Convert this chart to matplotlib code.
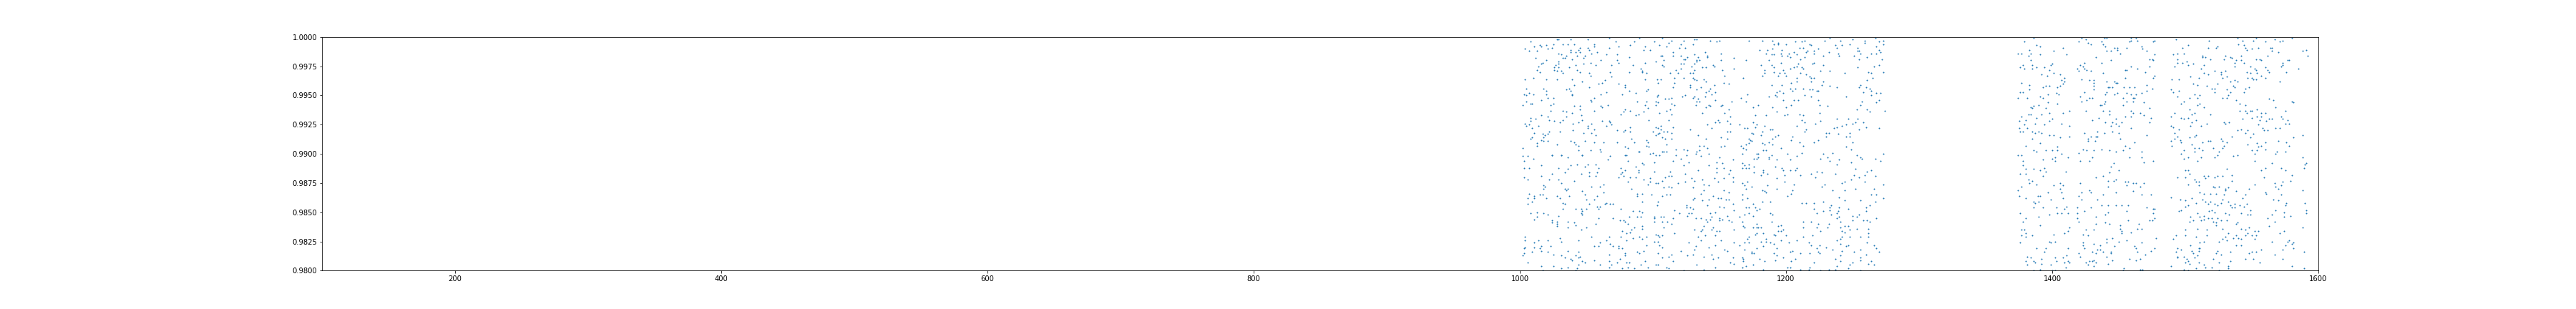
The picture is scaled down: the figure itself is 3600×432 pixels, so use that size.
import matplotlib
matplotlib.use("Agg")
import matplotlib.pyplot as plt

# (x, score) pairs, three bands of points
band1_pts = [
    # x 1000-1070, upper half
    (1008,.9996),(1004,.9990),(1007,.9988),(1011,.9992),(1015,.9993),(1016,.9992),(1013,.9988),(1020,.9993),
    (1021,.9990),(1024,.9991),(1025,.9994),(1028,.9998),(1029,.9998),(1032,.9994),(1036,.9994),(1038,.9998),
    (1041,.9994),(1038,.9989),(1038,.9987),(1042,.9987),(1044,.9989),(1045,.9991),(1043,.9984),(1045,.9987),
    (1051,.9991),(1052,.9989),(1051,.9998),(1056,.9994),(1056,.9992),(1058,.9987),(1054,.9986),(1049,.9984),
    (1048,.9982),(1065,.9985),(1067,.9991),(1067,.9999),(1069,.9976),(1029,.9986),(1031,.9985),(1034,.9982),
    (1032,.9982),(1035,.9984),(1039,.9981),(1029,.9979),(1029,.9977),(1027,.9976),(1026,.9974),(1029,.9974),
    (1020,.9980),(1017,.9978),(1016,.9977),(1014,.9975),(1012,.9982),(1013,.9972),(1015,.9970),(1026,.9972),
    (1028,.9971),(1031,.9971),(1032,.9969),(1037,.9974),(1042,.9976),(1043,.9972),(1045,.9970),(1048,.9977),
    (1053,.9978),(1057,.9976),(1061,.9980),(1052,.9969),(1053,.9967),(1064,.9963),(1062,.9961),(1059,.9960),
    (1068,.9970),(1069,.9966),(1004,.9964),(1010,.9965),(1020,.9964),(1028,.9964),(1039,.9964),(1047,.9962),
    (1005,.9956),(1018,.9956),(1020,.9954),(1020,.9951),(1021,.9948),(1035,.9955),(1037,.9956),(1038,.9954),
    (1039,.9951),(1039,.9950),(1041,.9959),(1003,.9951),(1005,.9950),(1007,.9952),(1010,.9951),(1052,.9957),
    (1056,.9948),(1053,.9946),(1054,.9945),(1025,.9948),(1016,.9946),(1005,.9945),(1008,.9943),(1009,.9943),
    (1002,.9942),(1023,.9942),(1025,.9943),(1041,.9941),(1045,.9941),(1045,.9938),(1061,.9951),(1065,.9953),
    (1061,.9941),(1062,.9940),(1066,.9942),(1023,.9937),(1032,.9937),(1035,.9936),(1039,.9935),(1056,.9937),
    (1016,.9933),(1021,.9932),(1008,.9931),(1008,.9928),(1012,.9930),(1022,.9929),(1026,.9928),(1030,.9927),
    (1032,.9929),(1035,.9932),(1046,.9933),(1047,.9929),(1044,.9927),(1040,.9926),(1004,.9926),(1005,.9924),
    (1007,.9925),(1009,.9922),(1014,.9924),(1051,.9924),(1054,.9926),(1051,.9922),(1056,.9921),(1062,.9928),
    (1065,.9924),(1067,.9928),(1068,.9927),(1069,.9925),(1011,.9918),(1017,.9917),(1019,.9916),(1018,.9914),
    (1021,.9917),(1022,.9919),(1030,.9919),(1040,.9920),(1048,.9918),(1054,.9918),(1057,.9916),(1009,.9914),
    (1008,.9913),(1016,.9912),(1018,.9911),(1021,.9911),(1038,.9911),(1041,.9910),(1042,.9908),(1044,.9907),
    (1049,.9911),(1056,.9910),(1063,.9910),(1013,.9909),(1013,.9907),(1028,.9908),(1002,.9905),(1044,.9903),
    (1053,.9903),(1060,.9904),(1061,.9902),(1024,.9899),(1031,.9899),(1047,.9899),
    # x 1000-1070, lower half
    (1002,.9898),(1006,.9898),(1010,.9896),(1003,.9894),(1024,.9899),(1031,.9899),(1036,.9897),(1047,.9899),
    (1066,.9895),(1068,.9898),(1003,.9888),(1007,.9888),(1016,.9890),(1029,.9888),(1038,.9890),(1036,.9887),
    (1034,.9884),(1024,.9883),(1043,.9891),(1049,.9889),(1051,.9891),(1057,.9891),(1059,.9888),(1058,.9884),
    (1052,.9884),(1052,.9881),(1057,.9881),(1046,.9883),(1003,.9880),(1006,.9878),(1016,.9881),(1022,.9878),
    (1029,.9878),(1031,.9875),(1041,.9877),(1018,.9873),(1019,.9872),(1018,.9870),(1034,.9870),(1035,.9869),
    (1036,.9870),(1054,.9872),(1060,.9872),(1063,.9874),(1063,.9867),(1007,.9866),(1006,.9862),(1011,.9864),
    (1011,.9862),(1015,.9865),(1017,.9865),(1020,.9862),(1028,.9864),(1030,.9862),(1037,.9864),(1047,.9868),
    (1049,.9865),(1050,.9861),(1056,.9861),(1058,.9864),(1006,.9857),(1009,.9859),(1032,.9858),(1034,.9857),
    (1052,.9857),(1058,.9855),(1060,.9855),(1059,.9853),(1064,.9857),(1065,.9858),(1068,.9857),(1070,.9857),
    (1032,.9853),(1042,.9853),(1046,.9853),(1047,.9851),(1046,.9849),(1047,.9848),(1050,.9853),(1008,.9849),
    (1013,.9850),(1018,.9849),(1021,.9848),(1013,.9846),(1011,.9844),(1029,.9847),(1024,.9843),(1024,.9841),
    (1028,.9842),(1028,.9840),(1028,.9838),(1036,.9842),(1041,.9841),(1042,.9839),(1036,.9837),(1046,.9835),
    (1050,.9837),(1059,.9845),(1057,.9840),(1070,.9845),(1004,.9829),(1004,.9826),(1011,.9824),(1014,.9826),
    (1021,.9826),(1030,.9828),(1031,.9825),(1044,.9826),(1054,.9829),(1067,.9829),(1065,.9826),(1068,.9823),
    (1070,.9821),(1003,.9819),(1004,.9820),(1011,.9820),(1015,.9819),(1016,.9821),(1016,.9817),(1009,.9816),
    (1021,.9816),(1023,.9821),(1025,.9814),(1003,.9815),(1002,.9813),(1031,.9813),(1036,.9817),(1034,.9811),
    (1038,.9810),(1039,.9809),(1042,.9813),(1044,.9816),(1044,.9811),(1045,.9812),(1047,.9808),(1049,.9807),
    (1056,.9809),(1056,.9821),(1059,.9821),(1060,.9824),(1067,.9814),(1067,.9808),(1069,.9805),(1067,.9803),
    (1060,.9805),(1006,.9807),(1016,.9804),(1025,.9804),(1031,.9802),(1036,.9803),(1043,.9802),(1044,.9805),
    (1042,.9800),(1017,.9800),
    # x 1070-1140
    (1090,.9999),(1107,.9999),(1114,.9997),(1123,.9997),(1131,.9998),(1133,.9998),(1072,.9996),(1086,.9996),
    (1101,.9996),(1112,.9995),(1074,.9992),(1083,.9993),(1105,.9993),(1121,.9994),(1130,.9994),(1094,.9992),
    (1093,.9989),(1098,.9989),(1110,.9992),(1120,.9991),(1124,.9991),(1073,.9985),(1082,.9983),(1106,.9984),
    (1107,.9984),(1115,.9984),(1115,.9987),(1121,.9984),(1123,.9981),(1124,.9981),(1126,.9983),(1131,.9985),
    (1134,.9983),(1135,.9980),(1133,.9979),(1139,.9987),(1073,.9980),(1074,.9978),(1085,.9976),(1094,.9978),
    (1102,.9979),(1108,.9980),(1107,.9976),(1108,.9975),(1121,.9977),(1123,.9977),(1121,.9973),(1117,.9972),
    (1129,.9975),(1131,.9977),(1133,.9980),(1137,.9974),(1140,.9974),(1131,.9972),(1091,.9973),(1092,.9971),
    (1092,.9970),(1095,.9969),(1082,.9970),(1113,.9969),(1119,.9969),(1128,.9969),(1130,.9969),(1123,.9965),
    (1116,.9965),(1103,.9964),(1106,.9964),(1094,.9964),(1104,.9961),(1130,.9965),(1131,.9964),(1133,.9963),
    (1138,.9964),(1074,.9960),(1079,.9959),(1079,.9957),(1082,.9954),(1087,.9952),(1096,.9955),(1095,.9954),
    (1115,.9957),(1116,.9961),(1128,.9959),(1128,.9957),(1133,.9955),(1136,.9957),(1140,.9953),(1139,.9949),
    (1077,.9951),(1088,.9945),(1095,.9945),(1104,.9950),(1103,.9949),(1109,.9947),(1112,.9947),(1114,.9948),
    (1114,.9943),(1116,.9942),(1122,.9949),(1124,.9950),(1130,.9948),(1131,.9949),(1133,.9945),(1135,.9945),
    (1134,.9947),(1132,.9942),(1140,.9940),(1094,.9942),(1096,.9939),(1093,.9936),(1102,.9945),(1104,.9944),
    (1102,.9942),(1113,.9938),(1110,.9937),(1114,.9934),(1105,.9935),(1079,.9938),(1078,.9936),(1076,.9934),
    (1083,.9937),(1087,.9933),(1089,.9934),(1137,.9935),(1097,.9929),(1112,.9929),
    (1073,.9920),(1078,.9919),(1079,.9920),(1083,.9923),(1083,.9919),(1100,.9919),(1102,.9923),(1104,.9922),
    (1106,.9924),(1102,.9916),(1104,.9917),(1106,.9921),(1105,.9918),(1108,.9919),(1109,.9913),(1111,.9919),
    (1114,.9918),(1115,.9923),(1107,.9914),(1110,.9908),(1114,.9913),(1073,.9910),(1084,.9913),(1086,.9910),
    (1095,.9912),(1096,.9910),(1095,.9907),(1097,.9906),(1079,.9906),(1081,.9905),(1079,.9899),(1080,.9899),
    (1081,.9894),(1089,.9902),(1090,.9902),(1098,.9900),(1100,.9901),(1102,.9899),(1105,.9899),(1107,.9902),
    (1108,.9902),(1110,.9902),(1117,.9904),(1117,.9899),(1115,.9894),(1101,.9893),(1123,.9904),(1126,.9903),
    (1121,.9896),(1123,.9890),(1125,.9899),(1127,.9893),(1128,.9921),(1134,.9916),(1133,.9902),(1132,.9900),
    (1135,.9903),(1135,.9907),(1138,.9907),(1136,.9898),(1140,.9913),(1076,.9888),(1079,.9886),(1077,.9884),
    (1076,.9883),(1078,.9881),(1074,.9880),(1081,.9876),(1083,.9880),(1087,.9889),(1089,.9886),(1089,.9884),
    (1087,.9880),(1092,.9892),(1093,.9891),(1093,.9878),(1098,.9879),(1098,.9876),(1096,.9874),(1101,.9885),
    (1102,.9875),(1104,.9875),(1107,.9877),(1109,.9880),(1112,.9881),(1114,.9881),(1108,.9871),(1112,.9872),
    (1114,.9871),(1113,.9885),(1119,.9875),(1124,.9883),(1124,.9876),(1129,.9879),(1131,.9877),(1134,.9886),
    (1137,.9878),(1138,.9874),(1130,.9871),
    (1084,.9870),(1088,.9866),(1088,.9864),(1092,.9866),(1099,.9865),(1107,.9864),(1110,.9865),(1113,.9865),
    (1092,.9859),(1104,.9859),(1103,.9856),(1131,.9862),(1130,.9861),(1137,.9860),(1136,.9866),(1138,.9869),
    (1125,.9856),(1125,.9854),(1128,.9854),(1130,.9853),(1127,.9849),(1129,.9849),(1126,.9847),(1116,.9852),
    (1120,.9849),(1076,.9853),(1085,.9851),(1090,.9851),(1092,.9850),(1088,.9846),(1091,.9846),(1082,.9846),
    (1075,.9843),(1078,.9843),(1079,.9842),(1081,.9840),(1101,.9846),(1101,.9845),(1101,.9842),(1106,.9846),
    (1108,.9846),(1107,.9842),(1111,.9842),(1114,.9840),(1115,.9845),(1092,.9838),(1092,.9836),(1086,.9837),
    (1084,.9835),(1083,.9833),(1108,.9837),(1116,.9832),(1132,.9845),(1136,.9845),(1131,.9835),(1137,.9835),
    (1138,.9838),(1077,.9834),(1080,.9832),(1076,.9829),(1085,.9828),(1090,.9829),(1092,.9827),(1095,.9829),
    (1102,.9831),(1104,.9830),(1105,.9829),(1107,.9830),(1101,.9825),(1104,.9825),(1105,.9822),(1107,.9820),
    (1095,.9822),(1088,.9816),(1090,.9815),(1093,.9817),(1080,.9826),(1074,.9821),(1074,.9819),(1077,.9819),
    (1079,.9815),(1079,.9813),(1075,.9810),(1073,.9807),(1080,.9807),(1082,.9807),(1081,.9803),(1086,.9802),
    (1091,.9805),(1094,.9808),(1096,.9803),(1102,.9805),(1104,.9805),(1110,.9803),(1112,.9802),(1107,.9811),
    (1112,.9812),(1114,.9814),(1104,.9815),(1115,.9808),(1121,.9817),(1126,.9813),(1131,.9818),(1132,.9821),
    (1130,.9814),(1127,.9824),(1136,.9826),(1134,.9829),(1136,.9834),(1139,.9830),(1138,.9812),(1133,.9805),
    (1138,.9801),(1123,.9800),(1077,.9802),
    # x 1140-1210
    (1143,.9997),(1148,.9996),(1150,.9997),(1172,.9997),(1182,.9997),(1190,.9997),(1191,.9994),(1194,.9994),
    (1200,.9994),(1207,.9996),(1141,.9984),(1141,.9983),(1151,.9986),(1151,.9980),(1161,.9982),(1170,.9980),
    (1180,.9989),(1185,.9986),(1186,.9989),(1189,.9985),(1190,.9990),(1191,.9985),(1194,.9995),(1196,.9986),
    (1197,.9989),(1197,.9984),(1201,.9984),(1202,.9986),(1203,.9983),(1206,.9987),(1208,.9985),(1145,.9976),
    (1146,.9975),(1152,.9972),(1154,.9967),(1161,.9973),(1181,.9976),(1184,.9972),(1184,.9969),(1182,.9967),
    (1187,.9980),(1189,.9976),(1191,.9974),(1191,.9970),(1194,.9967),(1195,.9969),(1196,.9978),(1198,.9972),
    (1199,.9969),(1200,.9967),(1203,.9973),(1206,.9974),(1208,.9975),(1209,.9977),(1208,.9965),(1208,.9962),
    (1204,.9961),(1140,.9962),(1146,.9959),(1153,.9961),(1157,.9960),(1168,.9965),(1189,.9959),(1193,.9953),
    (1192,.9950),(1193,.9949),(1195,.9954),(1197,.9959),(1198,.9952),(1203,.9956),(1205,.9954),(1207,.9956),
    (1142,.9954),(1143,.9956),(1144,.9951),(1147,.9953),(1147,.9946),(1142,.9942),(1143,.9941),(1151,.9941),
    (1152,.9942),(1159,.9945),(1166,.9948),(1170,.9945),(1171,.9951),(1175,.9940),(1179,.9942),(1187,.9949),
    (1190,.9940),(1193,.9936),(1198,.9946),(1200,.9940),(1201,.9934),(1199,.9933),(1204,.9942),(1206,.9946),
    (1209,.9946),(1154,.9935),(1157,.9938),(1158,.9932),(1177,.9933),(1185,.9933),(1147,.9927),(1149,.9929),
    (1150,.9927),(1156,.9928),(1158,.9926),(1141,.9925),(1144,.9922),(1165,.9925),(1169,.9922),(1171,.9922),
    (1175,.9927),(1177,.9923),(1178,.9925),(1184,.9924),(1182,.9919),(1181,.9916),(1188,.9921),(1190,.9921),
    (1156,.9919),(1158,.9919),(1174,.9918),(1175,.9917),(1172,.9913),(1173,.9912),(1174,.9911),(1172,.9909),
    (1182,.9909),(1184,.9908),(1185,.9903),(1187,.9910),(1190,.9913),(1192,.9915),(1194,.9916),(1190,.9908),
    (1196,.9905),(1204,.9912),(1205,.9915),(1208,.9924),(1210,.9910),(1151,.9914),(1156,.9913),(1141,.9905),
    (1151,.9906),(1154,.9907),(1166,.9907),(1168,.9905),(1170,.9904),(1170,.9908),(1142,.9900),(1150,.9897),
    (1148,.9893),(1152,.9892),(1160,.9895),(1167,.9900),(1167,.9892),(1169,.9890),(1172,.9891),(1178,.9900),
    (1179,.9897),(1178,.9896),(1176,.9896),(1179,.9900),(1183,.9903),(1187,.9897),(1187,.9896),(1193,.9895),
    (1189,.9899),(1201,.9900),(1203,.9895),(1208,.9898),(1142,.9890),(1148,.9888),(1153,.9888),(1148,.9884),
    (1158,.9886),(1157,.9883),(1160,.9880),(1146,.9879),(1149,.9876),(1153,.9879),(1160,.9876),(1167,.9888),
    (1170,.9888),(1172,.9888),(1176,.9889),(1176,.9884),(1183,.9886),(1183,.9884),(1181,.9882),(1186,.9883),
    (1192,.9889),(1197,.9888),(1198,.9886),(1199,.9882),(1203,.9886),(1207,.9886),(1208,.9888),(1206,.9874),
    (1193,.9879),(1199,.9876),(1142,.9873),(1153,.9869),(1157,.9867),(1167,.9875),(1169,.9873),(1171,.9876),
    (1170,.9870),(1174,.9872),(1171,.9862),(1167,.9865),(1167,.9861),(1182,.9869),(1184,.9868),(1185,.9867),
    (1186,.9873),(1193,.9870),(1205,.9869),(1204,.9866),(1201,.9864),(1142,.9861),(1145,.9864),(1149,.9862),
    (1151,.9862),(1155,.9861),(1157,.9861),(1160,.9857),(1161,.9852),(1150,.9855),(1153,.9854),(1141,.9856),
    (1170,.9854),(1172,.9854),(1175,.9857),(1177,.9854),(1178,.9852),(1180,.9853),(1175,.9847),(1172,.9849),
    (1169,.9848),(1165,.9846),(1182,.9859),(1188,.9859),(1188,.9849),(1190,.9848),(1140,.9844),(1143,.9844),
    (1143,.9849),(1144,.9846),(1147,.9850),(1141,.9842),(1150,.9845),(1150,.9843),(1152,.9844),(1156,.9847),
    (1157,.9843),(1159,.9842),(1167,.9842),(1168,.9838),(1169,.9837),(1175,.9837),(1178,.9840),(1178,.9837),
    (1179,.9837),(1181,.9837),(1189,.9842),(1144,.9835),(1145,.9837),(1148,.9834),(1150,.9834),(1147,.9830),
    (1161,.9835),(1178,.9832),(1177,.9831),(1183,.9832),(1185,.9827),(1191,.9831),(1192,.9830),(1194,.9834),
    (1194,.9838),(1196,.9839),(1196,.9834),(1198,.9835),(1200,.9830),(1196,.9826),(1202,.9824),(1208,.9826),
    (1151,.9826),(1161,.9824),(1169,.9824),(1172,.9824),(1171,.9827),(1172,.9829),(1181,.9825),(1185,.9825),
    (1188,.9824),(1191,.9823),(1142,.9820),(1147,.9822),(1154,.9818),(1156,.9817),(1165,.9822),(1169,.9818),
    (1174,.9816),(1174,.9815),(1176,.9815),(1178,.9819),(1183,.9821),(1193,.9819),(1191,.9815),(1193,.9813),
    (1203,.9816),(1205,.9817),(1144,.9814),(1149,.9811),(1145,.9810),(1147,.9803),(1158,.9807),(1160,.9811),
    (1161,.9806),(1167,.9811),(1168,.9810),(1168,.9808),(1167,.9803),(1170,.9804),(1175,.9805),(1180,.9810),
    (1184,.9808),(1183,.9801),(1192,.9809),(1198,.9811),(1204,.9808),(1207,.9810),(1201,.9803),(1203,.9803),
    # x 1210-1275
    (1212,.9996),(1214,.9997),(1229,.9997),(1233,.9999),(1241,.9997),(1250,.9998),(1259,.9997),(1259,.9995),
    (1267,.9999),(1270,.9996),(1273,.9997),(1273,.9994),(1210,.9991),(1213,.9991),(1218,.9994),(1219,.9993),
    (1224,.9990),(1221,.9988),(1221,.9986),(1216,.9988),(1215,.9987),(1214,.9983),(1228,.9984),(1232,.9987),
    (1237,.9993),(1238,.9991),(1239,.9986),(1240,.9984),(1242,.9993),(1248,.9994),(1251,.9984),(1254,.9991),
    (1254,.9988),(1255,.9988),(1256,.9986),(1255,.9981),(1261,.9983),(1264,.9986),(1268,.9986),(1268,.9992),
    (1270,.9989),(1271,.9987),(1270,.9976),(1272,.9981),(1211,.9981),(1220,.9977),(1221,.9978),(1228,.9976),
    (1212,.9974),(1213,.9973),(1211,.9969),(1215,.9968),(1218,.9966),(1219,.9965),(1221,.9965),(1219,.9962),
    (1226,.9971),(1233,.9971),(1244,.9969),(1254,.9974),(1262,.9970),(1264,.9969),(1265,.9965),(1266,.9975),
    (1273,.9970),(1228,.9962),(1227,.9959),(1233,.9958),(1238,.9957),(1213,.9956),(1218,.9955),(1220,.9955),
    (1223,.9954),(1224,.9954),(1214,.9950),(1219,.9949),(1245,.9949),(1255,.9957),(1256,.9959),(1258,.9953),
    (1260,.9957),(1261,.9963),(1263,.9956),(1264,.9954),(1264,.9950),(1268,.9952),(1271,.9952),(1270,.9946),
    (1268,.9944),(1257,.9945),(1256,.9942),(1253,.9938),(1261,.9938),(1263,.9936),(1274,.9937),(1224,.9946),
    (1225,.9942),(1231,.9941),(1210,.9934),(1213,.9933),(1212,.9929),(1214,.9927),(1225,.9935),(1222,.9926),
    (1226,.9928),(1215,.9921),(1214,.9919),(1238,.9930),(1236,.9922),(1238,.9923),(1242,.9924),(1245,.9925),
    (1247,.9930),(1250,.9926),(1252,.9927),(1254,.9930),(1255,.9921),(1258,.9927),(1260,.9923),(1270,.9922),
    (1230,.9918),(1232,.9918),(1230,.9915),(1239,.9917),(1245,.9915),(1248,.9918),(1248,.9915),(1250,.9910),
    (1245,.9906),(1249,.9904),(1224,.9912),(1221,.9910),(1213,.9907),(1212,.9901),(1228,.9900),(1231,.9897),
    (1235,.9901),(1226,.9896),(1233,.9894),(1238,.9891),(1240,.9895),(1249,.9893),(1253,.9899),(1256,.9897),
    (1257,.9896),(1267,.9896),(1271,.9894),(1273,.9900),(1252,.9887),(1255,.9880),(1251,.9882),(1259,.9882),
    (1261,.9885),(1264,.9886),(1267,.9881),(1211,.9882),(1219,.9883),(1222,.9880),(1223,.9885),(1227,.9884),
    (1237,.9883),(1229,.9874),(1227,.9872),(1235,.9869),(1242,.9875),(1244,.9876),(1244,.9869),(1249,.9878),
    (1252,.9870),(1259,.9876),(1266,.9870),(1273,.9874),(1264,.9865),(1268,.9865),(1273,.9862),(1256,.9860),
    (1267,.9859),(1263,.9856),(1260,.9854),(1260,.9851),(1212,.9858),(1215,.9858),(1221,.9858),(1223,.9849),
    (1221,.9853),(1228,.9859),(1228,.9851),(1233,.9854),(1234,.9856),(1233,.9852),(1234,.9848),(1238,.9849),
    (1239,.9851),(1240,.9854),(1240,.9846),(1238,.9845),(1241,.9842),(1244,.9860),(1240,.9863),(1247,.9853),
    (1250,.9847),(1250,.9843),(1253,.9846),(1255,.9848),(1258,.9843),(1261,.9843),(1263,.9842),(1268,.9845),
    (1213,.9842),(1213,.9837),(1219,.9842),(1224,.9840),(1223,.9837),(1226,.9834),(1232,.9840),(1231,.9837),
    (1241,.9837),(1242,.9834),(1244,.9838),(1244,.9833),(1247,.9838),(1248,.9835),(1253,.9836),(1262,.9836),
    (1262,.9832),(1262,.9829),(1261,.9824),(1256,.9829),(1248,.9829),(1242,.9829),(1241,.9827),(1238,.9826),
    (1241,.9823),(1220,.9830),(1213,.9829),(1217,.9824),(1219,.9822),(1225,.9822),(1230,.9820),(1218,.9815),
    (1223,.9819),(1224,.9816),(1225,.9815),(1235,.9818),(1242,.9817),(1241,.9813),(1245,.9821),(1247,.9822),
    (1251,.9816),(1256,.9818),(1260,.9814),(1266,.9822),(1268,.9819),(1270,.9816),(1264,.9808),(1266,.9805),
    (1262,.9806),(1256,.9811),(1256,.9809),(1250,.9807),(1248,.9805),(1247,.9802),(1241,.9808),(1238,.9804),
    (1237,.9810),(1237,.9801),(1232,.9801),(1226,.9800),(1221,.9807),(1218,.9803),(1217,.9801),(1211,.9815),
    (1211,.9801),(1256,.9800),
]

band2_pts = [
    (1379,.9996),(1386,.9999),(1388,.9993),(1391,.9992),(1383,.9989),(1384,.9986),(1382,.9984),(1374,.9986),
    (1377,.9986),(1391,.9985),(1401,.9988),(1408,.9991),(1411,.9985),(1384,.9980),(1385,.9976),(1378,.9976),
    (1376,.9974),(1379,.9973),(1385,.9973),(1388,.9974),(1394,.9974),(1398,.9972),(1399,.9976),(1400,.9977),
    (1392,.9968),(1396,.9967),(1401,.9969),(1406,.9968),(1409,.9965),(1409,.9962),(1407,.9963),(1408,.9960),
    (1377,.9961),(1383,.9959),(1383,.9955),(1378,.9953),(1376,.9953),(1393,.9957),(1395,.9958),(1398,.9958),
    (1397,.9951),(1393,.9948),(1391,.9949),(1397,.9944),(1404,.9957),(1406,.9958),(1403,.9952),(1405,.9951),
    (1404,.9943),(1374,.9948),(1381,.9948),(1384,.9940),(1385,.9939),(1386,.9941),(1390,.9942),(1395,.9939),
    (1382,.9934),(1384,.9934),(1388,.9931),(1377,.9932),(1375,.9928),(1380,.9929),(1379,.9925),(1375,.9922),
    (1376,.9919),(1378,.9919),(1381,.9922),(1387,.9926),(1392,.9934),(1398,.9935),(1400,.9930),(1398,.9928),
    (1394,.9925),(1390,.9919),(1392,.9918),(1385,.9919),(1387,.9918),(1385,.9913),(1398,.9916),(1401,.9916),
    (1408,.9935),(1413,.9937),(1407,.9926),(1413,.9924),(1413,.9915),(1406,.9914),(1380,.9907),(1386,.9903),
    (1388,.9902),(1391,.9909),(1395,.9903),(1400,.9903),(1404,.9906),(1404,.9903),(1400,.9896),(1402,.9894),
    (1402,.9897),(1393,.9895),(1407,.9900),(1412,.9897),(1374,.9899),(1377,.9899),(1378,.9894),(1378,.9890),
    (1380,.9887),(1376,.9883),(1380,.9883),(1386,.9887),(1394,.9888),(1395,.9885),(1391,.9886),(1393,.9881),
    (1410,.9885),(1382,.9878),(1385,.9877),(1383,.9875),(1388,.9874),(1377,.9872),(1374,.9869),(1375,.9864),
    (1380,.9862),(1389,.9864),(1391,.9864),(1397,.9867),(1401,.9873),(1406,.9875),(1408,.9873),(1406,.9870),
    (1407,.9867),(1408,.9862),(1399,.9861),(1386,.9859),(1387,.9858),(1390,.9859),(1386,.9854),(1393,.9854),
    (1403,.9854),(1409,.9853),(1411,.9855),(1404,.9849),(1407,.9849),(1412,.9849),(1390,.9846),(1398,.9848),
    (1376,.9849),(1380,.9845),(1378,.9842),(1391,.9839),(1377,.9835),(1379,.9835),(1377,.9830),(1380,.9832),
    (1380,.9829),(1385,.9830),(1376,.9824),(1401,.9831),(1413,.9837),(1412,.9834),(1409,.9832),(1399,.9824),
    (1398,.9825),(1402,.9825),(1388,.9819),(1395,.9819),(1394,.9816),(1381,.9812),(1384,.9811),(1380,.9808),
    (1386,.9808),(1387,.9807),(1381,.9805),(1392,.9810),(1392,.9806),(1402,.9811),(1403,.9808),(1408,.9811),
    (1409,.9807),(1411,.9813),(1412,.9808),(1413,.9807),(1410,.9803),(1412,.9819),(1399,.9805),(1386,.9800),
    (1391,.9801),(1400,.9800),(1402,.9800),
    (1420,.9996),(1422,.9999),(1425,.9998),(1427,.9995),(1429,.9994),(1437,.9996),(1438,.9994),(1439,.9999),
    (1440,.9992),(1441,.9999),(1447,.9991),(1449,.9991),(1441,.9988),(1444,.9988),(1449,.9989),(1451,.9986),
    (1458,.9996),(1459,.9997),(1464,.9997),(1459,.9999),(1463,.9999),(1456,.9991),(1467,.9992),(1468,.9990),
    (1471,.9988),(1476,.9996),(1477,.9997),(1477,.9985),(1473,.9981),(1475,.9981),(1476,.9980),(1433,.9983),
    (1444,.9980),(1437,.9978),(1419,.9973),(1420,.9971),(1421,.9976),(1423,.9975),(1424,.9973),(1424,.9978),
    (1426,.9972),(1429,.9971),(1428,.9963),(1431,.9963),(1431,.9961),(1438,.9969),(1441,.9962),(1442,.9957),
    (1443,.9957),(1445,.9957),(1447,.9962),(1448,.9961),(1449,.9961),(1455,.9972),(1456,.9972),(1459,.9975),
    (1464,.9973),(1470,.9970),(1473,.9975),(1476,.9965),(1477,.9967),(1455,.9965),(1454,.9957),(1458,.9957),
    (1462,.9957),(1471,.9959),(1475,.9956),(1422,.9964),(1424,.9953),(1431,.9955),(1431,.9958),(1440,.9951),
    (1441,.9953),(1447,.9951),(1449,.9952),(1453,.9948),(1456,.9952),(1459,.9951),(1461,.9948),(1463,.9951),
    (1467,.9952),(1471,.9954),(1421,.9949),(1422,.9945),(1426,.9946),(1428,.9948),(1430,.9948),(1436,.9942),
    (1437,.9942),(1439,.9943),(1440,.9945),(1453,.9942),(1456,.9945),(1461,.9945),(1462,.9948),(1469,.9944),
    (1425,.9937),(1430,.9929),(1435,.9931),(1438,.9937),(1443,.9937),(1443,.9934),(1448,.9930),(1452,.9927),
    (1455,.9932),(1459,.9937),(1461,.9935),(1459,.9932),(1466,.9935),(1469,.9933),(1473,.9939),(1474,.9931),
    (1473,.9927),(1440,.9927),(1444,.9924),(1445,.9927),(1448,.9926),(1450,.9924),(1424,.9918),(1427,.9913),
    (1427,.9911),(1429,.9915),(1432,.9911),(1433,.9915),(1434,.9915),(1434,.9919),(1439,.9918),(1445,.9919),
    (1450,.9918),(1451,.9913),(1459,.9922),(1462,.9910),(1471,.9916),(1431,.9903),(1420,.9901),(1423,.9904),
    (1426,.9903),(1437,.9904),(1443,.9903),(1448,.9902),(1453,.9903),(1455,.9907),(1458,.9905),(1421,.9894),
    (1428,.9894),(1430,.9897),(1444,.9889),(1446,.9892),(1443,.9884),(1450,.9886),(1458,.9897),(1467,.9902),
    (1467,.9897),(1469,.9893),(1476,.9894),(1421,.9875),(1433,.9880),(1438,.9881),(1442,.9877),(1446,.9877),
    (1448,.9878),(1455,.9876),(1457,.9876),(1456,.9873),(1461,.9875),(1463,.9875),(1469,.9875),(1466,.9872),
    (1442,.9872),(1428,.9869),(1429,.9867),(1422,.9867),(1420,.9864),(1422,.9861),(1438,.9865),(1448,.9867),
    (1461,.9868),(1467,.9865),(1474,.9865),(1419,.9854),(1419,.9849),(1424,.9851),(1429,.9854),(1434,.9861),
    (1437,.9856),(1442,.9856),(1448,.9856),(1452,.9856),(1457,.9856),(1456,.9851),(1440,.9848),(1442,.9850),
    (1457,.9843),(1433,.9846),(1419,.9845),(1420,.9842),(1433,.9840),(1440,.9841),(1443,.9840),(1451,.9839),
    (1451,.9836),(1452,.9834),(1452,.9832),(1459,.9833),(1464,.9836),(1467,.9836),(1465,.9840),(1471,.9854),
    (1476,.9853),(1477,.9853),(1476,.9849),(1477,.9845),(1475,.9843),(1473,.9843),(1425,.9835),(1423,.9831),
    (1427,.9830),(1431,.9835),(1441,.9827),(1441,.9824),(1445,.9828),(1450,.9825),(1456,.9826),(1467,.9824),
    (1478,.9828),(1423,.9824),(1423,.9822),(1424,.9819),(1431,.9823),(1436,.9822),(1447,.9821),(1462,.9821),
    (1463,.9819),(1464,.9816),(1470,.9814),(1474,.9817),(1477,.9819),(1430,.9816),(1433,.9815),(1434,.9818),
    (1436,.9818),(1438,.9816),(1441,.9812),(1444,.9816),(1444,.9815),(1445,.9809),(1442,.9806),(1420,.9815),
    (1421,.9812),(1425,.9807),(1427,.9805),(1428,.9808),(1430,.9808),(1431,.9809),(1433,.9807),(1431,.9804),
    (1458,.9810),(1463,.9809),(1466,.9810),(1466,.9801),(1468,.9801),(1453,.9800),(1454,.9802),
]

band3_pts = [
    (1493,.9998),(1518,.9997),(1539,.9999),(1543,.9997),(1551,.9997),(1553,.9999),(1560,.9996),(1567,.9998),
    (1571,.9996),(1573,.9997),(1580,.9999),(1498,.9991),(1502,.9993),(1517,.9991),(1523,.9991),(1524,.9992),
    (1540,.9994),(1544,.9993),(1545,.9991),(1546,.9989),(1550,.9990),(1555,.9991),(1564,.9991),(1565,.9991),
    (1565,.9988),(1570,.9987),(1588,.9988),(1591,.9989),(1592,.9984),(1491,.9985),(1494,.9986),(1499,.9986),
    (1494,.9981),(1494,.9978),(1498,.9978),(1501,.9979),(1502,.9976),(1506,.9977),(1513,.9984),(1513,.9983),
    (1515,.9983),(1519,.9981),(1529,.9981),(1530,.9984),(1534,.9983),(1535,.9982),(1538,.9980),(1537,.9978),
    (1537,.9975),(1542,.9984),(1542,.9980),(1544,.9978),(1553,.9981),(1556,.9981),(1557,.9980),(1562,.9984),
    (1573,.9978),(1573,.9976),(1577,.9980),(1578,.9980),(1572,.9975),(1585,.9973),(1492,.9975),(1512,.9973),
    (1514,.9976),(1514,.9969),(1517,.9968),(1522,.9971),(1527,.9970),(1527,.9968),(1528,.9965),(1530,.9971),
    (1531,.9966),(1534,.9962),(1537,.9963),(1539,.9962),(1546,.9970),(1549,.9975),(1549,.9969),(1552,.9973),
    (1553,.9972),(1554,.9969),(1557,.9967),(1560,.9974),(1560,.9965),(1562,.9972),(1563,.9970),(1547,.9965),
    (1550,.9965),(1551,.9964),(1553,.9964),(1576,.9970),(1571,.9962),(1490,.9964),(1495,.9964),(1504,.9966),
    (1510,.9965),(1506,.9960),(1509,.9959),(1516,.9958),(1520,.9956),(1522,.9956),(1522,.9953),(1524,.9960),
    (1531,.9955),(1534,.9953),(1532,.9950),(1531,.9948),(1528,.9948),(1536,.9958),(1537,.9957),(1545,.9956),
    (1548,.9957),(1544,.9953),(1489,.9955),(1491,.9953),(1494,.9949),(1495,.9954),(1503,.9948),(1509,.9948),
    (1511,.9950),(1507,.9951),(1497,.9943),(1499,.9945),(1509,.9942),(1511,.9943),(1514,.9940),(1492,.9935),
    (1489,.9932),(1497,.9931),(1499,.9930),(1502,.9931),(1503,.9938),(1505,.9934),(1507,.9935),(1508,.9929),
    (1505,.9927),(1519,.9934),(1516,.9926),(1512,.9924),(1504,.9924),(1489,.9924),(1491,.9923),(1495,.9921),
    (1492,.9918),(1492,.9913),(1494,.9915),(1496,.9912),(1489,.9911),(1490,.9907),(1497,.9910),(1497,.9900),
    (1499,.9903),(1499,.9896),(1502,.9897),(1503,.9914),(1507,.9915),(1508,.9916),(1505,.9908),(1507,.9905),
    (1507,.9902),(1509,.9894),(1510,.9905),(1513,.9910),(1512,.9897),(1513,.9903),(1517,.9911),(1519,.9911),
    (1521,.9905),(1522,.9897),(1524,.9899),(1525,.9902),(1527,.9913),(1528,.9911),(1529,.9907),(1528,.9905),
    (1531,.9910),(1535,.9915),(1536,.9898),(1539,.9899),(1538,.9946),(1541,.9943),(1541,.9937),(1545,.9942),
    (1545,.9937),(1546,.9935),(1549,.9937),(1550,.9937),(1554,.9938),(1557,.9935),(1560,.9935),(1563,.9947),
    (1566,.9946),(1568,.9940),(1580,.9945),(1581,.9944),(1554,.9932),(1557,.9932),(1563,.9930),(1565,.9930),
    (1561,.9928),(1556,.9929),(1555,.9925),(1558,.9922),(1559,.9920),(1562,.9920),(1550,.9931),(1543,.9930),
    (1529,.9927),(1530,.9926),(1533,.9927),(1539,.9920),(1542,.9921),(1545,.9918),(1547,.9920),(1549,.9914),
    (1551,.9917),(1554,.9909),(1555,.9906),(1557,.9907),(1554,.9903),(1547,.9908),(1550,.9903),(1552,.9900),
    (1552,.9894),(1560,.9910),(1560,.9904),(1568,.9922),(1571,.9922),(1572,.9932),(1573,.9930),(1575,.9926),
    (1578,.9926),(1577,.9929),(1575,.9937),(1570,.9911),(1569,.9902),(1568,.9900),(1575,.9902),(1576,.9910),
    (1578,.9907),(1581,.9914),(1588,.9916),(1588,.9897),(1591,.9892),(1590,.9891),(1589,.9888),(1500,.9886),
    (1502,.9886),(1503,.9883),(1494,.9880),(1500,.9880),(1502,.9874),(1507,.9878),(1508,.9876),(1510,.9876),
    (1510,.9873),(1514,.9881),(1517,.9881),(1515,.9879),(1522,.9880),(1524,.9881),(1528,.9881),(1531,.9887),
    (1535,.9882),(1535,.9877),(1538,.9868),(1521,.9872),(1522,.9871),(1525,.9872),(1530,.9870),(1530,.9869),
    (1532,.9871),(1511,.9867),(1514,.9866),(1519,.9866),(1523,.9866),(1548,.9870),(1552,.9874),(1557,.9886),
    (1559,.9880),(1560,.9888),(1565,.9892),(1572,.9888),(1575,.9886),(1580,.9882),(1567,.9875),(1568,.9872),
    (1570,.9870),(1572,.9873),(1573,.9876),(1579,.9877),(1560,.9867),(1561,.9866),(1572,.9865),(1588,.9869),
    (1489,.9863),(1496,.9861),(1500,.9860),(1502,.9856),(1500,.9855),(1497,.9852),(1495,.9851),(1505,.9862),
    (1508,.9858),(1513,.9861),(1515,.9859),(1519,.9859),(1517,.9857),(1522,.9857),(1518,.9851),(1520,.9852),
    (1522,.9850),(1524,.9856),(1527,.9858),(1528,.9861),(1529,.9865),(1532,.9859),(1534,.9856),(1535,.9854),
    (1537,.9857),(1537,.9854),(1533,.9848),(1530,.9849),(1541,.9856),(1544,.9855),(1543,.9862),(1546,.9857),
    (1549,.9852),(1547,.9848),(1549,.9848),(1545,.9865),(1566,.9861),(1568,.9852),(1570,.9860),(1575,.9856),
    (1576,.9858),(1574,.9850),(1579,.9847),(1590,.9858),(1591,.9852),(1591,.9849),(1504,.9846),(1503,.9842),
    (1506,.9843),(1509,.9849),(1511,.9846),(1512,.9843),(1514,.9847),(1514,.9844),(1517,.9845),(1520,.9845),
    (1521,.9842),(1523,.9841),(1523,.9839),(1524,.9845),(1527,.9843),(1531,.9843),(1538,.9840),(1542,.9849),
    (1539,.9841),(1542,.9836),(1545,.9835),(1548,.9837),(1552,.9834),(1555,.9834),(1562,.9845),(1563,.9838),
    (1565,.9848),(1567,.9842),(1574,.9846),(1571,.9832),(1574,.9834),(1588,.9837),(1500,.9835),(1509,.9836),
    (1516,.9835),(1516,.9830),(1528,.9836),(1532,.9832),(1530,.9829),(1531,.9826),(1528,.9827),(1525,.9825),
    (1538,.9830),(1536,.9828),(1540,.9828),(1542,.9827),(1545,.9830),(1547,.9832),(1550,.9830),(1553,.9830),
    (1552,.9827),(1565,.9825),(1577,.9825),(1578,.9826),(1581,.9824),(1580,.9823),(1575,.9822),(1581,.9819),
    (1589,.9816),(1493,.9830),(1491,.9827),(1500,.9830),(1504,.9822),(1508,.9829),(1511,.9824),(1514,.9825),
    (1494,.9819),(1497,.9818),(1493,.9816),(1494,.9812),(1494,.9811),(1499,.9812),(1501,.9810),(1502,.9808),
    (1500,.9807),(1503,.9806),(1505,.9817),(1506,.9815),(1507,.9811),(1510,.9819),(1511,.9819),(1510,.9817),
    (1509,.9813),(1510,.9807),(1514,.9805),(1515,.9803),(1520,.9803),(1521,.9810),(1523,.9815),(1524,.9817),
    (1527,.9814),(1534,.9816),(1534,.9808),(1538,.9822),(1542,.9822),(1545,.9810),(1548,.9815),(1550,.9816),
    (1551,.9810),(1553,.9816),(1557,.9818),(1556,.9807),(1567,.9814),(1573,.9818),(1573,.9810),(1525,.9807),
    (1525,.9800),(1532,.9804),(1532,.9802),(1489,.9804),(1499,.9801),(1502,.9800),(1508,.9802),(1580,.9804),
    (1589,.9802),
]

x_ticks = [200, 400, 600, 800, 1000, 1200, 1400, 1600]
y_ticks = [0.98, 0.9825, 0.985, 0.9875, 0.99, 0.9925, 0.995, 0.9975, 1.0]

xs = [p[0] for p in band1_pts + band2_pts + band3_pts]
ys = [p[1] for p in band1_pts + band2_pts + band3_pts]

fig, ax = plt.subplots(figsize=(50, 6), dpi=72)
fig.subplots_adjust(left=0.125, right=0.9, top=0.88, bottom=0.124)

ax.scatter(xs, ys, s=1, linewidths=1.0, color="#1f77b4")

ax.set_xlim(100, 1600)
ax.set_ylim(0.98, 1.0)
ax.set_xticks(x_ticks)
ax.set_yticks(y_ticks)
ax.set_yticklabels([f"{v:.4f}" for v in y_ticks])

fig.savefig("out.png", dpi=72)
